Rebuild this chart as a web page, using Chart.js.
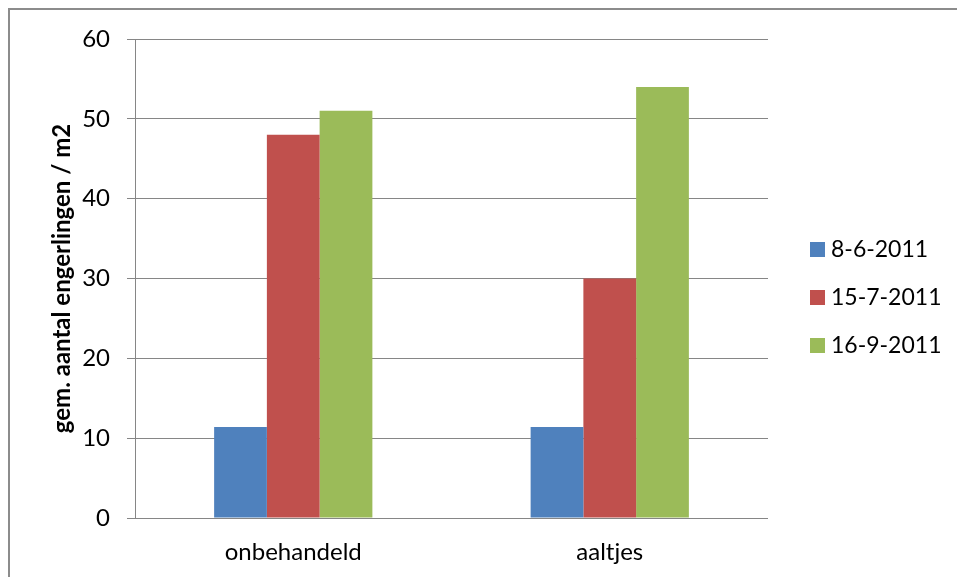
<!DOCTYPE html>
<html>
<head>
<meta charset="utf-8">
<script src="https://cdn.jsdelivr.net/npm/chart.js@4"></script>
<style>
  html, body { margin: 0; padding: 0; background: #fff; }
  #wrap { position: relative; width: 957px; height: 577px; overflow: hidden; }
  #frame { position: absolute; left: 8px; top: 8px; width: 1000px; height: 1000px;
           border-top: 2px solid #8c8c8c; border-left: 2px solid #8c8c8c; }
  #legend { position: absolute; left: 810px; top: 235px; font-family: Lato, sans-serif; font-size: 23px; color: #000; }
  #legend div { height: 48px; display: flex; align-items: flex-start; line-height: 26px; }
  #legend span.box { display: inline-block; width: 15px; height: 15px; margin: 7px 6px 0 0; }
</style>
</head>
<body>
<div id="wrap">
  <div id="frame"></div>
  <canvas id="chart" width="957" height="577"></canvas>
  <div id="legend"></div>
</div>
<script>
const categories = ['onbehandeld', 'aaltjes'];
const seriesNames = ['8-6-2011', '15-7-2011', '16-9-2011'];
const values1 = [11.4, 11.4];
const values2 = [48, 30];
const values3 = [51, 54];
const colors = ['#4f81bd', '#c0504d', '#9bbb59'];
const yMin = 0, yMax = 60, yStep = 10;

const allValues = [values1, values2, values3];
const gridColor = '#868686';
const font = { family: 'Lato, sans-serif', size: 24 };

const datasets = seriesNames.map((name, i) => ({
  label: name,
  data: allValues[i],
  backgroundColor: colors[i],
  borderWidth: 0,
  categoryPercentage: 0.5,
  barPercentage: 1.0
}));

new Chart(document.getElementById('chart'), {
  type: 'bar',
  data: { labels: categories, datasets },
  options: {
    responsive: false,
    animation: false,
    layout: { padding: { top: 39, right: 189, left: 0, bottom: 0 } },
    plugins: { legend: { display: false }, tooltip: { enabled: false } },
    scales: {
      x: {
        grid: { display: false },
        border: { display: false },
        ticks: { color: '#000', font, padding: 12 },
        afterFit: (s) => { s.height = 59; }
      },
      y: {
        min: yMin,
        max: yMax,
        ticks: { stepSize: yStep, color: '#000', font, padding: 17 },
        grid: { color: gridColor, lineWidth: 1, tickLength: 8 },
        border: { color: gridColor, width: 1 },
        title: {
          display: true,
          text: 'gem. aantal engerlingen / m2',
          color: '#000',
          font: { family: 'Lato, sans-serif', size: 24, weight: 'bold' },
          padding: { top: 48, bottom: 0 }
        },
        afterFit: (s) => { s.width = 135; }
      }
    }
  }
});

const legend = document.getElementById('legend');
seriesNames.forEach((name, i) => {
  const row = document.createElement('div');
  row.innerHTML = '<span class="box" style="background:' + colors[i] + '"></span><span>' + name + '</span>';
  legend.appendChild(row);
});
</script>
</body>
</html>
